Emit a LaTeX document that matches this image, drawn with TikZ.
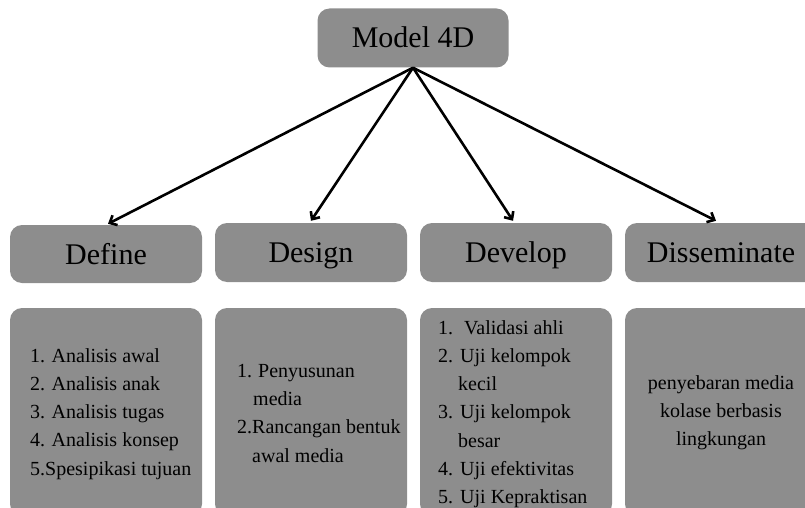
\documentclass[tikz,border=0pt]{standalone}
\usepackage{fontspec}
\setmainfont{Liberation Serif}
\usetikzlibrary{arrows.meta}
\definecolor{boxgray}{RGB}{141,141,141}
\tikzset{
  box/.style={fill=boxgray, draw=none, rounded corners=12pt, inner sep=0pt},
  headbox/.style={box, minimum width=192pt, minimum height=59pt,
    font=\fontsize{30}{36}\selectfont, text height=20pt, text depth=0pt},
  bodybox/.style={box, minimum width=192pt, minimum height=208pt},
  listtext/.style={inner sep=0pt, align=left, anchor=base west,
    font=\fontsize{20}{28.3}\selectfont},
  conn/.style={line width=2.6pt, -{Straight Barb[length=6pt,width=11pt,line width=2.6pt]}}
}
\begin{document}
\begin{tikzpicture}[x=1pt,y=-1pt]
\useasboundingbox (0,0) rectangle (805,508);
\clip (0,0) rectangle (805,508);
% top node
\node[headbox, minimum width=191pt] (m) at (413,38) {Model 4D};
% headings
\node[headbox, minimum height=58pt] (h1) at (106,254) {Define};
\node[headbox] (h2) at (311,252.5) {Design};
\node[headbox] (h3) at (516,252.5) {Develop};
\node[headbox] (h4) at (721,252.5) {Disseminate};
% body boxes
\node[bodybox] (b1) at (106,412) {};
\node[bodybox] (b2) at (311,412) {};
\node[bodybox] (b3) at (516,412) {};
\node[bodybox] (b4) at (721,412) {};
% texts (base anchor = baseline of the last line)
\node[listtext] (t1) at (30,475.2) {1.\hspace{6.5pt}Analisis awal\\2.\hspace{6.5pt}Analisis anak\\3.\hspace{6.5pt}Analisis tugas\\4.\hspace{6.5pt}Analisis konsep\\5.Spesipikasi tujuan};
\node[listtext] (t2) at (237,462) {1.\hspace{6pt}Penyusunan\\\hspace*{16pt}media\\2.Rancangan bentuk\\\hspace*{15pt}awal media};
\node[listtext] (t3) at (438,503.8) {1.\hspace{11pt}Validasi ahli\\2.\hspace{7pt}Uji kelompok\\\hspace*{20pt}kecil\\3.\hspace{7pt}Uji kelompok\\\hspace*{20pt}besar\\4.\hspace{7pt}Uji efektivitas\\5.\hspace{7pt}Uji Kepraktisan};
\node[listtext, align=center, anchor=base] (t4) at (721,445.6) {penyebaran media\\kolase berbasis\\lingkungan};
% connectors
\draw[conn] (m.south) -- ([xshift=2pt,yshift=1pt]h1.north);
\draw[conn] (m.south) -- ([yshift=2pt]h2.north);
\draw[conn] (m.south) -- ([xshift=-3pt,yshift=2pt]h3.north);
\draw[conn] (m.south) -- ([xshift=-5pt,yshift=2pt]h4.north);
\end{tikzpicture}
\end{document}
